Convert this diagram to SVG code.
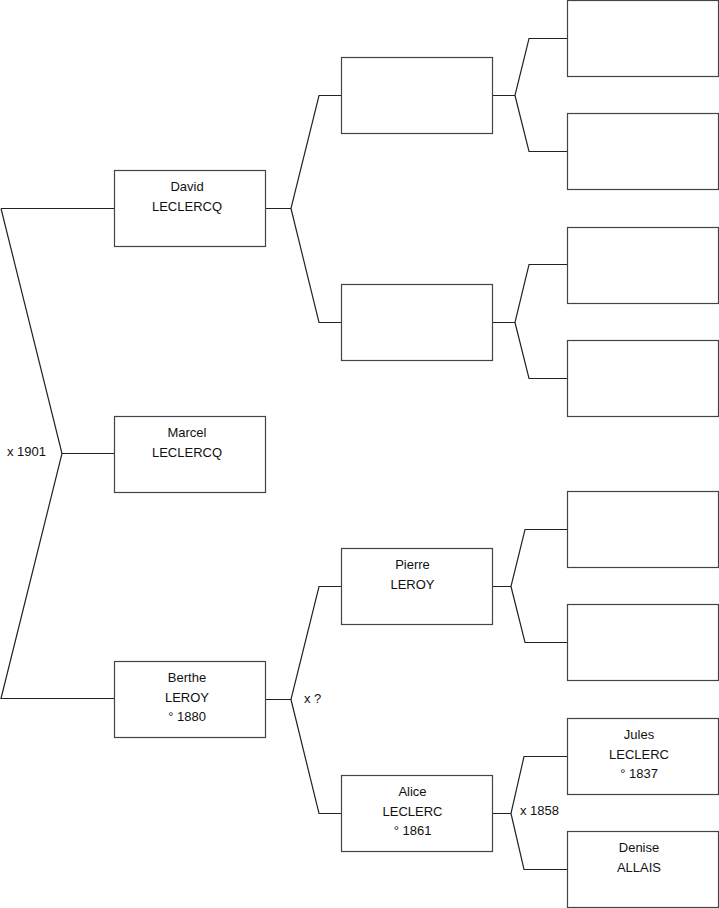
<svg xmlns="http://www.w3.org/2000/svg" width="719" height="908" viewBox="0 0 719 908">
<style>
.box{fill:#fff;stroke:#444;stroke-width:1.2}
.ln{fill:none;stroke:#222;stroke-width:1.2}
text{font-family:"Liberation Sans",Arial,sans-serif;font-size:13px;fill:#111}
.c{text-anchor:middle}
</style>
<rect width="719" height="908" fill="#fff"/>
<g id="connectors">
<path class="ln" d="M1,208.5 H114 M1,208.5 L62,453.5 L1,698.5 H114 M62,453.5 H114"/>
<path class="ln" d="M265,208.5 H291 L319,95.5 H341 M291,208.5 L319,322.5 H341"/>
<path class="ln" d="M265,699.5 H291 L319,586.5 H341 M291,699.5 L319,813.5 H341"/>
<path class="ln" d="M492,95.5 H515 L529,38.5 H567 M515,95.5 L529,151.5 H567"/>
<path class="ln" d="M492,322.5 H515 L529,264.5 H567 M515,322.5 L529,378.5 H567"/>
<path class="ln" d="M492,586.5 H511 L525,529.5 H567 M511,586.5 L525,642.5 H567"/>
<path class="ln" d="M492,813.5 H511 L524,756.5 H567 M511,813.5 L524,869.5 H567"/>
<text x="7" y="455.5">x 1901</text>
<text x="304" y="702.5">x ?</text>
<text x="520" y="814.5">x 1858</text>
</g>
<g id="david"><rect class="box" x="114.5" y="170.5" width="151" height="76"/><text class="c" x="187" y="191">David</text><text class="c" x="187" y="210.5">LECLERCQ</text></g>
<g id="marcel"><rect class="box" x="114.5" y="416.5" width="151" height="76"/><text class="c" x="187" y="437">Marcel</text><text class="c" x="187" y="456.5">LECLERCQ</text></g>
<g id="berthe"><rect class="box" x="114.5" y="661.5" width="151" height="76"/><text class="c" x="187" y="682">Berthe</text><text class="c" x="187" y="701.5">LEROY</text><text class="c" x="187" y="721">° 1880</text></g>
<g id="p1"><rect class="box" x="341.5" y="57.5" width="151" height="76"/></g>
<g id="p2"><rect class="box" x="341.5" y="284.5" width="151" height="76"/></g>
<g id="pierre"><rect class="box" x="341.5" y="548.5" width="151" height="76"/><text class="c" x="412.5" y="569">Pierre</text><text class="c" x="412.5" y="588.5">LEROY</text></g>
<g id="alice"><rect class="box" x="341.5" y="775.5" width="151" height="76"/><text class="c" x="412.5" y="796">Alice</text><text class="c" x="412.5" y="815.5">LECLERC</text><text class="c" x="412.5" y="835">° 1861</text></g>
<g id="g1"><rect class="box" x="567.5" y="0.5" width="151" height="76"/></g>
<g id="g2"><rect class="box" x="567.5" y="113.5" width="151" height="76"/></g>
<g id="g3"><rect class="box" x="567.5" y="227.5" width="151" height="76"/></g>
<g id="g4"><rect class="box" x="567.5" y="340.5" width="151" height="76"/></g>
<g id="g5"><rect class="box" x="567.5" y="491.5" width="151" height="76"/></g>
<g id="g6"><rect class="box" x="567.5" y="604.5" width="151" height="76"/></g>
<g id="jules"><rect class="box" x="567.5" y="718.5" width="151" height="76"/><text class="c" x="639" y="739">Jules</text><text class="c" x="639" y="758.5">LECLERC</text><text class="c" x="639" y="778">° 1837</text></g>
<g id="denise"><rect class="box" x="567.5" y="831.5" width="151" height="76"/><text class="c" x="639" y="852">Denise</text><text class="c" x="639" y="871.5">ALLAIS</text></g>
</svg>
